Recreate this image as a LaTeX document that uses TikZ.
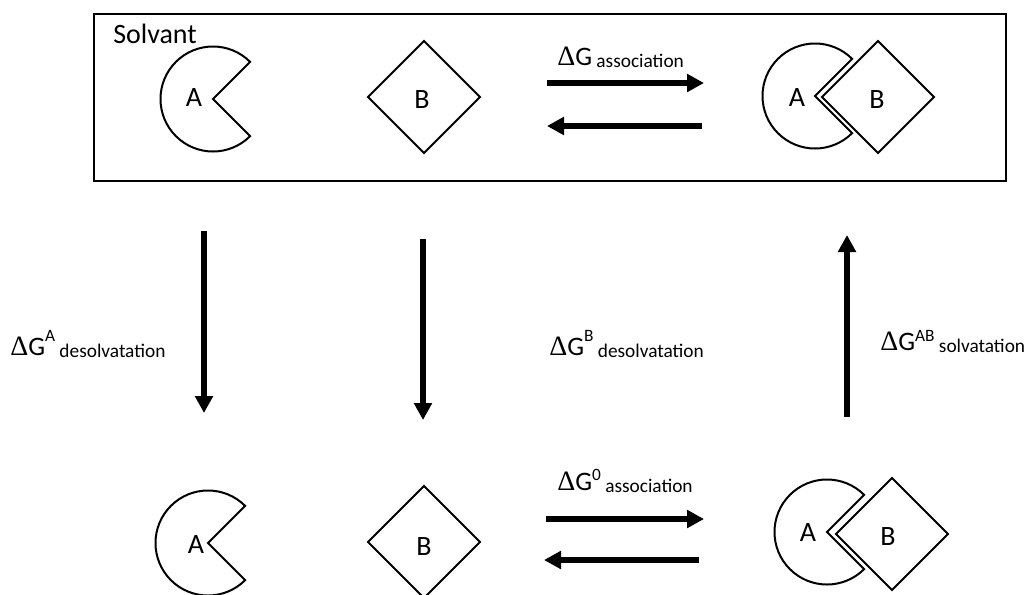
\documentclass[tikz,border=0pt]{standalone}
\usepackage{fontspec}
\setmainfont{Carlito}
\newfontfamily\deltafont{Liberation Serif}
\usetikzlibrary{arrows.meta}

% #1 superscript, #2 its size, #3 its raise, #4 subscript word
\newcommand{\dgl}[4]{%
  {\fontsize{20}{24}\selectfont{\deltafont\fontsize{21}{24}\selectfont Δ}G}%
  \raisebox{#3}{\fontsize{#2}{#2}\selectfont #1}%
  {\fontsize{14.5}{17}\selectfont\ \raisebox{-1.5pt}{#4}}}

\begin{document}
\begin{tikzpicture}[x=0.75pt,y=-0.75pt,
  shp/.style={draw, line width=1.5pt, line join=miter},
  bigarrow/.style={line width=4.5pt, -{Triangle[length=12.75pt,width=13pt]}},
  lbl/.style={inner sep=0pt, anchor=base west},
  letter/.style={inner sep=0pt, font=\fontsize{21}{24}\selectfont}]

\useasboundingbox (0,0) rectangle (1030,594);
\fill[white] (0,0) rectangle (1030,594);

% solvent box
\node[draw, line width=1.75pt, minimum width=684pt, minimum height=125.25pt, inner sep=0pt] (box) at (550,97.5) {};
\node[lbl, font=\fontsize{21}{24}\selectfont] (solv) at (113,43) {Solvant};

% centres
\coordinate (pA1) at (213,99);
\coordinate (dB1) at (424,97);
\coordinate (pC1) at (815,96);
\coordinate (dC1) at (878,97);
\coordinate (pA2) at (208,543);
\coordinate (dB2) at (424,542);
\coordinate (pC2) at (827,532);
\coordinate (dC2) at (892,534);

% pacmen A
\foreach \c in {pA1,pC1,pA2,pC2}
  \draw[shp] (\c) -- ++(-45:52.5) arc[start angle=-45, end angle=-315, radius=52.5] -- cycle;
% diamonds B
\foreach \c in {dB1,dC1,dB2,dC2}
  \draw[shp] (\c) ++(-56,0) -- ++(56,-56) -- ++(56,56) -- ++(-56,56) -- cycle;

% letters
\node[letter] (lA1) at (194,98) {A};
\node[letter] (lB1) at (422,100) {B};
\node[letter] (lCA1) at (797,98) {A};
\node[letter] (lCB1) at (877,100) {B};
\node[letter] (lA2) at (196,545) {A};
\node[letter] (lB2) at (424,547) {B};
\node[letter] (lCA2) at (808,533) {A};
\node[letter] (lCB2) at (888,537) {B};

% arrow end points
\coordinate (t1s) at (547,83);  \coordinate (t1e) at (704,83);
\coordinate (t2s) at (702,126); \coordinate (t2e) at (547,126);
\coordinate (b1s) at (546,519); \coordinate (b1e) at (704,519);
\coordinate (b2s) at (699,560); \coordinate (b2e) at (544,560);
\coordinate (vAs) at (204,231); \coordinate (vAe) at (204,413);
\coordinate (vBs) at (423,239); \coordinate (vBe) at (423,420);
\coordinate (vCs) at (847,417); \coordinate (vCe) at (847,235);

\draw[bigarrow] (t1s) -- (t1e);
\draw[bigarrow] (t2s) -- (t2e);
\draw[bigarrow] (b1s) -- (b1e);
\draw[bigarrow] (b2s) -- (b2e);
\draw[bigarrow] (vAs) -- (vAe);
\draw[bigarrow] (vBs) -- (vBe);
\draw[bigarrow] (vCs) -- (vCe);

% energy labels
\node[lbl] (g1) at (557,65) {\dgl{}{10}{0pt}{association}};
\node[lbl] (g0) at (557,490) {\dgl{0}{13}{7.5pt}{association}};
\node[lbl] (gA) at (10,355) {\dgl{A}{13}{10pt}{desolvatation}};
\node[lbl] (gB) at (549,355) {\dgl{B}{13}{10pt}{desolvatation}};
\node[lbl] (gAB) at (880,350) {\dgl{AB}{13}{6.5pt}{solvatation}};
\end{tikzpicture}
\end{document}
